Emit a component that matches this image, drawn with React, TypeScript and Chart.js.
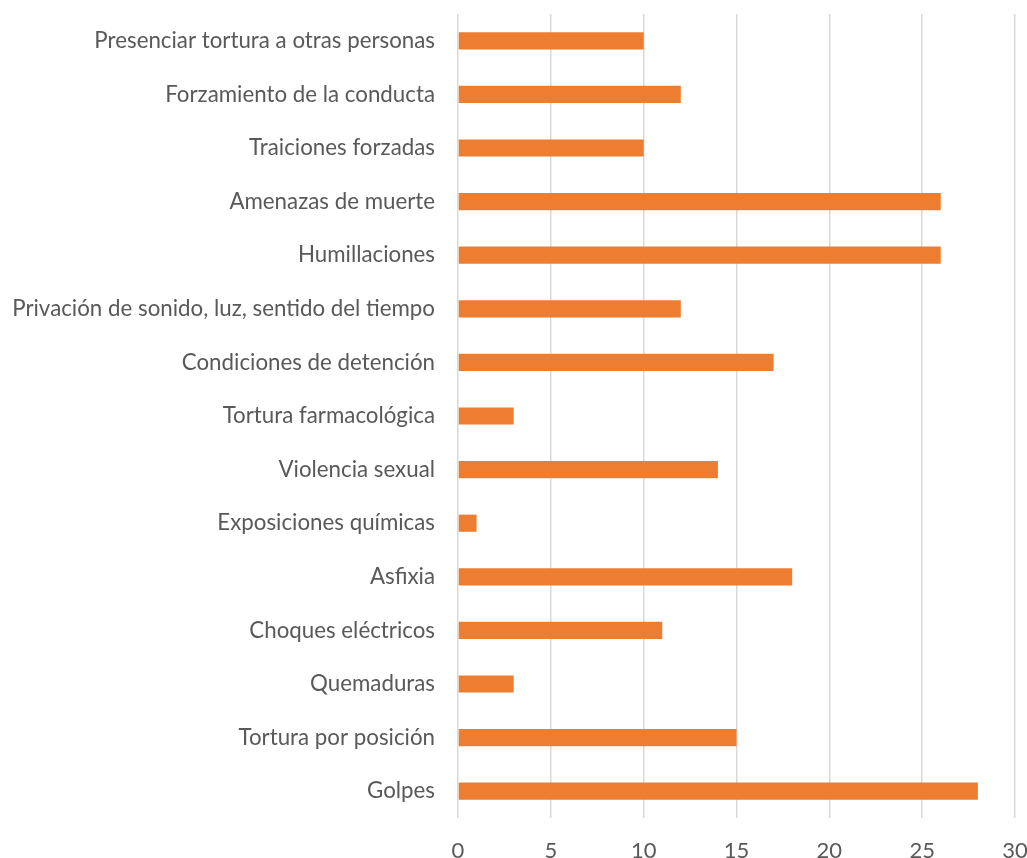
import React, { useEffect, useRef } from "react";
import { Chart, registerables } from "chart.js";
Chart.register(...registerables);

const categories = [
  "Presenciar tortura a otras personas",
  "Forzamiento de la conducta",
  "Traiciones forzadas",
  "Amenazas de muerte",
  "Humillaciones",
  "Privación de sonido, luz, sentido del tiempo",
  "Condiciones de detención",
  "Tortura farmacológica",
  "Violencia sexual",
  "Exposiciones químicas",
  "Asfixia",
  "Choques eléctricos",
  "Quemaduras",
  "Tortura por posición",
  "Golpes",
];
const values = [10, 12, 10, 26, 26, 12, 17, 3, 14, 1, 18, 11, 3, 15, 28];
const xTicks = [0, 5, 10, 15, 20, 25, 30];

export default function App() {
  const ref = useRef<HTMLCanvasElement>(null);
  useEffect(() => {
    document.body.style.margin = "0";
    const chart = new Chart(ref.current!, {
      type: "bar",
      data: {
        labels: categories,
        datasets: [
          {
            data: values,
            backgroundColor: "#ED7D31",
            barPercentage: 0.32,
            categoryPercentage: 1,
          },
        ],
      },
      options: {
        indexAxis: "y",
        animation: false,
        responsive: false,
        maintainAspectRatio: false,
        layout: { padding: { left: 12, right: 0, top: 14, bottom: 0 } },
        plugins: { legend: { display: false }, tooltip: { enabled: false } },
        scales: {
          x: {
            min: 0,
            max: 30,
            afterBuildTicks: (axis: any) => {
              axis.ticks = xTicks.map((v) => ({ value: v }));
            },
            afterFit: (axis: any) => {
              axis.height = 40;
              axis.paddingLeft = 0;
              axis.paddingRight = 12;
            },
            grid: { color: "#d9d9d9", lineWidth: 1.5, drawTicks: false },
            border: { display: false },
            ticks: {
              color: "#595959",
              font: { family: "Lato", size: 22 },
              padding: 20,
            },
          },
          y: {
            afterFit: (axis: any) => {
              axis.paddingTop = 0;
              axis.paddingBottom = 0;
              axis.width = 446;
            },
            grid: { display: false },
            border: { display: false },
            ticks: {
              color: "#595959",
              font: { family: "Lato", size: 22.3 },
              padding: 15,
              autoSkip: false,
            },
          },
        },
      },
    });
    return () => chart.destroy();
  }, []);
  return (
    <div style={{ width: 1027, height: 858 }}>
      <canvas ref={ref} width={1027} height={858} />
    </div>
  );
}
